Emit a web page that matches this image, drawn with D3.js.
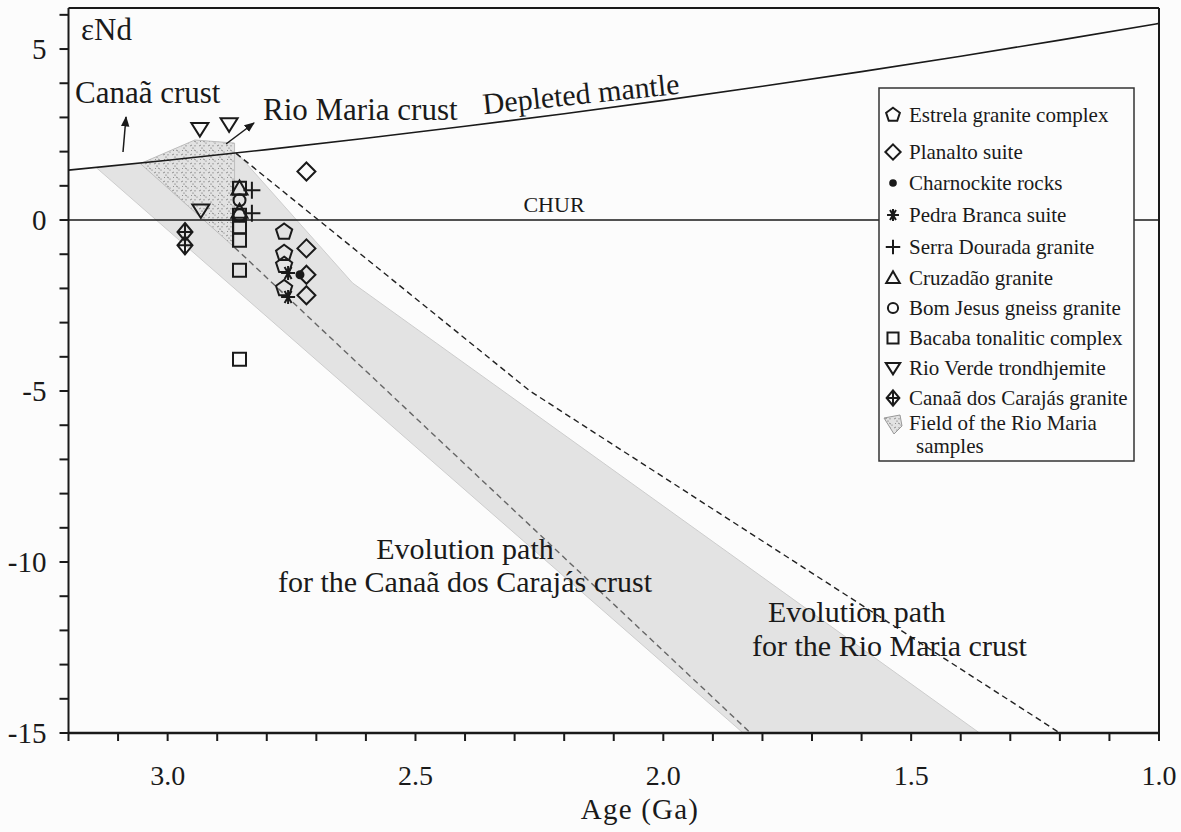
<!DOCTYPE html>
<html>
<head>
<meta charset="utf-8">
<script src="https://cdn.jsdelivr.net/npm/d3@7"></script>
<style>
  html, body { margin: 0; padding: 0; background: #fcfcfc; }
  svg { display: block; font-family: "Liberation Serif", "Times New Roman", serif; }
</style>
</head>
<body>
<svg id="chart" width="1181" height="832"></svg>
<script>
// ---- data -------------------------------------------------------------
const xTicksMajor = [3.0, 2.5, 2.0, 1.5, 1.0];
const yTicksMajor = [5, 0, -5, -10, -15];

// Depleted mantle evolution curve (age Ga, εNd)
const depletedMantle = [
  [3.2, 1.46], [3.0, 1.75], [2.8, 2.06], [2.6, 2.39], [2.4, 2.74], [2.2, 3.11],
  [2.0, 3.50], [1.8, 3.91], [1.6, 4.34], [1.4, 4.79], [1.2, 5.26], [1.0, 5.75]
];
const chur = [[3.2, 0], [1.0, 0]];

// Evolution band for the Canaã dos Carajás crust
const canaaBand = [
  [3.143, 1.52], [2.86, 1.96], [2.627, -1.84], [1.362, -15], [1.839, -15]
];
// Field of the Rio Maria samples
const rioMariaField = [
  [3.055, 1.65], [2.945, 2.34], [2.865, 2.25], [2.865, -0.8]
];
// Evolution path limits for the Rio Maria crust
const rioMariaLower = [[2.865, -0.8], [1.824, -15]];
const rioMariaUpper = [[2.862, 1.95], [2.269, -5.0], [1.2, -15]];

// Samples by unit: [age Ga, εNd]
const estrela      = [[2.765, -0.35], [2.765, -0.97], [2.765, -1.32], [2.765, -2.0]];
const planalto     = [[2.72, 1.42], [2.72, -0.83], [2.72, -1.6], [2.72, -2.2]];
const charnockite  = [[2.733, -1.6]];
const pedraBranca  = [[2.757, -1.55], [2.757, -2.25]];
const serraDourada = [[2.83, 0.87], [2.83, 0.2]];
const cruzadao     = [[2.855, 0.92], [2.855, 0.24]];
const bomJesus     = [[2.855, 0.58], [2.855, 0.14]];
const bacaba       = [[2.855, 0.93], [2.855, 0.14], [2.855, -0.2], [2.855, -0.59], [2.855, -1.47], [2.855, -4.07]];
const rioVerde     = [[2.935, 2.66], [2.876, 2.8], [2.933, 0.28]];
const canaaGranite = [[2.965, -0.35], [2.965, -0.74]];

const legendLabels = [
  "Estrela granite complex", "Planalto suite", "Charnockite rocks",
  "Pedra Branca suite", "Serra Dourada granite", "Cruzadão granite",
  "Bom Jesus gneiss granite", "Bacaba tonalitic complex",
  "Rio Verde trondhjemite", "Canaã dos Carajás granite"
];
const legendRows = [115, 152, 183, 215, 247, 278, 308, 338, 368, 398];
const fieldLabel = ["Field of the Rio Maria", "samples"];

// ---- layout -----------------------------------------------------------
const svg = d3.select("#chart");
const plot = { left: 68.5, right: 1159, top: 8, bottom: 733 };
const x = d3.scaleLinear().domain([3.2, 1.0]).range([plot.left, plot.right]);
const y = d3.scaleLinear().domain([-15, 6.2]).range([plot.bottom, plot.top]);
const ink = "#1a1a1a";

// texture for the Rio Maria field
const defs = svg.append("defs");
const pat = defs.append("pattern").attr("id", "stipple")
  .attr("patternUnits", "userSpaceOnUse").attr("width", 9).attr("height", 9);
pat.append("rect").attr("width", 9).attr("height", 9).attr("fill", "#e2e2e2");
pat.append("path").attr("d", "M1,2 l2,-1 M5,6 l2,1 M6,1 l0,1.5 M2,6.5 l1,0")
  .attr("stroke", "#7a7a7a").attr("stroke-width", 0.8);
pat.append("circle").attr("cx", 4).attr("cy", 4).attr("r", 0.6).attr("fill", "#555");
pat.append("circle").attr("cx", 8).attr("cy", 8).attr("r", 0.5).attr("fill", "#555");

const line = d3.line().x(d => x(d[0])).y(d => y(d[1]));
const clip = defs.append("clipPath").attr("id", "plotClip");
clip.append("rect").attr("x", plot.left).attr("y", plot.top)
  .attr("width", plot.right - plot.left).attr("height", plot.bottom - plot.top);

const g = svg.append("g").attr("clip-path", "url(#plotClip)");

// Canaã crust band
g.append("path").datum(canaaBand).attr("d", d => line(d) + "Z")
  .attr("fill", "#e3e3e3").attr("stroke", "#cdcdcd").attr("stroke-width", 1);

// Rio Maria field
g.append("path").datum(rioMariaField).attr("d", d => line(d) + "Z")
  .attr("fill", "url(#stipple)").attr("stroke", "#bdbdbd").attr("stroke-width", 1);

// Rio Maria evolution limits
[rioMariaLower, rioMariaUpper].forEach((pts, i) => {
  g.append("path").datum(pts).attr("d", line)
    .attr("fill", "none").attr("stroke", i === 0 ? "#666" : "#222")
    .attr("stroke-width", 1.4).attr("stroke-dasharray", "6,4");
});

// CHUR and depleted mantle
g.append("path").datum(chur).attr("d", line)
  .attr("fill", "none").attr("stroke", ink).attr("stroke-width", 1.6);
g.append("path").datum(depletedMantle)
  .attr("d", d3.line().curve(d3.curveNatural).x(d => x(d[0])).y(d => y(d[1])))
  .attr("fill", "none").attr("stroke", ink).attr("stroke-width", 1.6);

// ---- symbols ----------------------------------------------------------
function poly(n, r, rot) {
  const pts = d3.range(n).map(i => {
    const a = rot + i * 2 * Math.PI / n;
    return [r * Math.cos(a), r * Math.sin(a)];
  });
  return "M" + pts.map(p => p.join(",")).join("L") + "Z";
}
const symbols = {
  pentagon: () => poly(5, 8.5, -Math.PI / 2),
  diamond: () => "M0,-9L9,0L0,9L-9,0Z",
  asterisk: () => "M-7,0H7M-3.5,-6L3.5,6M3.5,-6L-3.5,6M0,-7V7",
  plus: () => "M-8.5,0H8.5M0,-8.5V8.5",
  triangle: () => "M0,-8L8,6L-8,6Z",
  square: () => "M-6.5,-6.5H6.5V6.5H-6.5Z",
  invtriangle: () => "M-8.5,-6L8.5,-6L0,7.5Z",
  crossdiamond: () => "M0,-9L7.5,0L0,9L-7.5,0ZM-7.5,0H7.5M0,-9V9"
};
function drawSymbol(sel, type, scale) {
  const s = scale || 1;
  if (type === "dot") {
    sel.append("circle").attr("r", 4.5 * s).attr("fill", ink);
  } else if (type === "circle") {
    sel.append("circle").attr("r", 6 * s).attr("fill", "none")
      .attr("stroke", ink).attr("stroke-width", 2);
  } else {
    sel.append("path").attr("d", symbols[type]())
      .attr("transform", `scale(${s})`)
      .attr("fill", "none").attr("stroke", ink)
      .attr("stroke-width", 2 / s).attr("stroke-linejoin", "miter");
  }
}

const groups = [
  [estrela, "pentagon"], [planalto, "diamond"], [charnockite, "dot"],
  [pedraBranca, "asterisk"], [serraDourada, "plus"], [cruzadao, "triangle"],
  [bomJesus, "circle"], [bacaba, "square"], [rioVerde, "invtriangle"],
  [canaaGranite, "crossdiamond"]
];
groups.forEach(([data, type]) => {
  data.forEach(d => {
    const s = svg.append("g").attr("transform", `translate(${x(d[0])},${y(d[1])})`);
    drawSymbol(s, type, 1);
  });
});

// ---- axes -------------------------------------------------------------
const yAxis = svg.append("g").attr("transform", `translate(${plot.left},0)`);
yAxis.append("line").attr("y1", plot.top).attr("y2", plot.bottom)
  .attr("stroke", ink).attr("stroke-width", 2);
d3.range(-15, 7, 1).forEach(v => {
  yAxis.append("line").attr("x1", -9).attr("x2", 0)
    .attr("y1", y(v)).attr("y2", y(v)).attr("stroke", ink).attr("stroke-width", 2);
});
yTicksMajor.forEach(v => {
  yAxis.append("text").attr("x", -22).attr("y", y(v)).attr("dy", "0.35em")
    .attr("text-anchor", "end").attr("font-size", 29).attr("fill", ink)
    .text(v);
});

const xAxis = svg.append("g").attr("transform", `translate(0,${plot.bottom})`);
xAxis.append("line").attr("x1", plot.left).attr("x2", plot.right)
  .attr("stroke", ink).attr("stroke-width", 2.5);
d3.range(0, 23).map(i => 3.2 - i * 0.1).forEach(v => {
  xAxis.append("line").attr("x1", x(v)).attr("x2", x(v))
    .attr("y1", 0).attr("y2", 8).attr("stroke", ink).attr("stroke-width", 2);
});
xTicksMajor.forEach(v => {
  xAxis.append("text").attr("x", x(v)).attr("y", 52)
    .attr("text-anchor", "middle").attr("font-size", 28).attr("fill", ink)
    .text(v.toFixed(1));
});
svg.append("text").attr("x", 640).attr("y", 819).attr("text-anchor", "middle")
  .attr("font-size", 29).attr("letter-spacing", 1.2).attr("fill", ink).text("Age (Ga)");

// top and right frame
svg.append("line").attr("x1", plot.left).attr("x2", plot.right)
  .attr("y1", plot.top).attr("y2", plot.top).attr("stroke", ink).attr("stroke-width", 2);
svg.append("line").attr("x1", plot.right).attr("x2", plot.right)
  .attr("y1", plot.top).attr("y2", plot.bottom).attr("stroke", ink).attr("stroke-width", 2);

// ---- annotations ------------------------------------------------------
const ann = svg.append("g").attr("fill", ink);
ann.append("text").attr("x", 81).attr("y", 40).attr("font-size", 31).text("εNd");
ann.append("text").attr("x", 75).attr("y", 103).attr("font-size", 31).text("Canaã crust");
ann.append("text").attr("x", 263).attr("y", 120).attr("font-size", 31).text("Rio Maria crust");
const dmX = 582, dmY = 104;
ann.append("text").attr("x", dmX).attr("y", dmY).attr("font-size", 30)
  .attr("text-anchor", "middle").attr("transform", `rotate(-6 ${dmX} ${dmY})`)
  .text("Depleted mantle");
ann.append("text").attr("x", 554).attr("y", y(0) - 8).attr("font-size", 22)
  .attr("text-anchor", "middle").text("CHUR");
ann.append("text").attr("x", 465).attr("y", 559).attr("font-size", 30)
  .attr("text-anchor", "middle").text("Evolution path");
ann.append("text").attr("x", 465).attr("y", 592).attr("font-size", 30)
  .attr("text-anchor", "middle").text("for the Canaã dos Carajás crust");
ann.append("text").attr("x", 768).attr("y", 622).attr("font-size", 30)
  .text("Evolution path");
ann.append("text").attr("x", 752).attr("y", 656).attr("font-size", 30)
  .text("for the Rio Maria crust");

// arrows
defs.append("marker").attr("id", "arrow").attr("viewBox", "0 0 10 10")
  .attr("refX", 9).attr("refY", 5).attr("markerWidth", 7).attr("markerHeight", 7)
  .attr("orient", "auto-start-reverse")
  .append("path").attr("d", "M0,1L10,5L0,9Z").attr("fill", ink);
svg.append("line").attr("x1", 123).attr("y1", 152).attr("x2", 126).attr("y2", 117)
  .attr("stroke", ink).attr("stroke-width", 1.5).attr("marker-end", "url(#arrow)");
svg.append("line").attr("x1", 226).attr("y1", 144).attr("x2", 254).attr("y2", 123)
  .attr("stroke", ink).attr("stroke-width", 1.5).attr("marker-end", "url(#arrow)");

// ---- legend -----------------------------------------------------------
const legend = svg.append("g");
legend.append("rect").attr("x", 879).attr("y", 88).attr("width", 255).attr("height", 373)
  .attr("fill", "#fcfcfc").attr("stroke", "#333").attr("stroke-width", 1.5);
const legendTypes = groups.map(gp => gp[1]);
legendLabels.forEach((lab, i) => {
  const yy = legendRows[i];
  const s = legend.append("g").attr("transform", `translate(893,${yy})`);
  drawSymbol(s, legendTypes[i], 0.85);
  legend.append("text").attr("x", 909).attr("y", yy).attr("dy", "0.35em")
    .attr("font-size", 21).attr("fill", ink).text(lab);
});
const fy = 426;
legend.append("path").datum([[0, -8], [16, -11], [18, 0], [10, 8]])
  .attr("transform", `translate(884,${fy})`)
  .attr("d", d => "M" + d.join("L") + "Z")
  .attr("fill", "url(#stipple)").attr("stroke", "#999");
legend.append("text").attr("x", 909).attr("y", fy).attr("dy", "0.2em")
  .attr("font-size", 21).attr("fill", ink).text(fieldLabel[0]);
legend.append("text").attr("x", 916).attr("y", fy + 23).attr("dy", "0.2em")
  .attr("font-size", 21).attr("fill", ink).text(fieldLabel[1]);
</script>
</body>
</html>
